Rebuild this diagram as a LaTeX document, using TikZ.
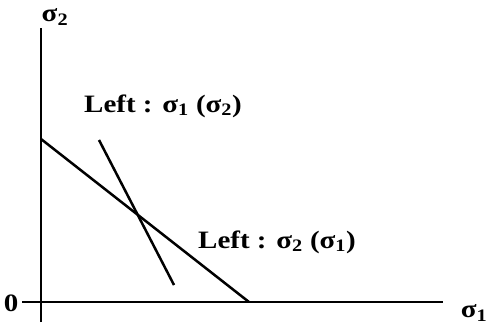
\documentclass[tikz,border=0pt]{standalone}
\usepackage{fontspec}
\setmainfont{Liberation Serif}
\newcommand{\sig}[1]{σ\textsubscript{#1}}

\begin{document}
\begin{tikzpicture}[x=1pt, y=-1pt,
      every node/.style={font=\fontsize{25}{29}\selectfont\bfseries, xscale=1.16, inner sep=0pt},
      axis/.style={line width=2.8pt},
      curve/.style={line width=2.5pt}]
    \useasboundingbox (0,0) rectangle (492,325);
    % axes
    \coordinate (ytop) at (41,28);
    \coordinate (ybot) at (41,322);
    \coordinate (xleft) at (22,302);
    \coordinate (xright) at (443,302);
    \draw[axis] (ybot) -- (ytop);
    \draw[axis] (xleft) -- (xright);
    \node (zero) at (11,303) {0};
    \node (s2) at (55,17) {\sig{2}};
    \node (s1) at (474,313) {\sig{1}};
    % response lines
    \coordinate (a1) at (41,139);
    \coordinate (a2) at (249,302);
    \coordinate (b1) at (99,140);
    \coordinate (b2) at (174,285);
    \draw[curve] (a1) -- (a2);
    \draw[curve] (b1) -- (b2);
    \node (lbl1) at (163,106) {Left : \sig{1} (\sig{2})};
    \node (lbl2) at (277,242) {Left : \sig{2} (\sig{1})};
  \end{tikzpicture}
\end{document}
